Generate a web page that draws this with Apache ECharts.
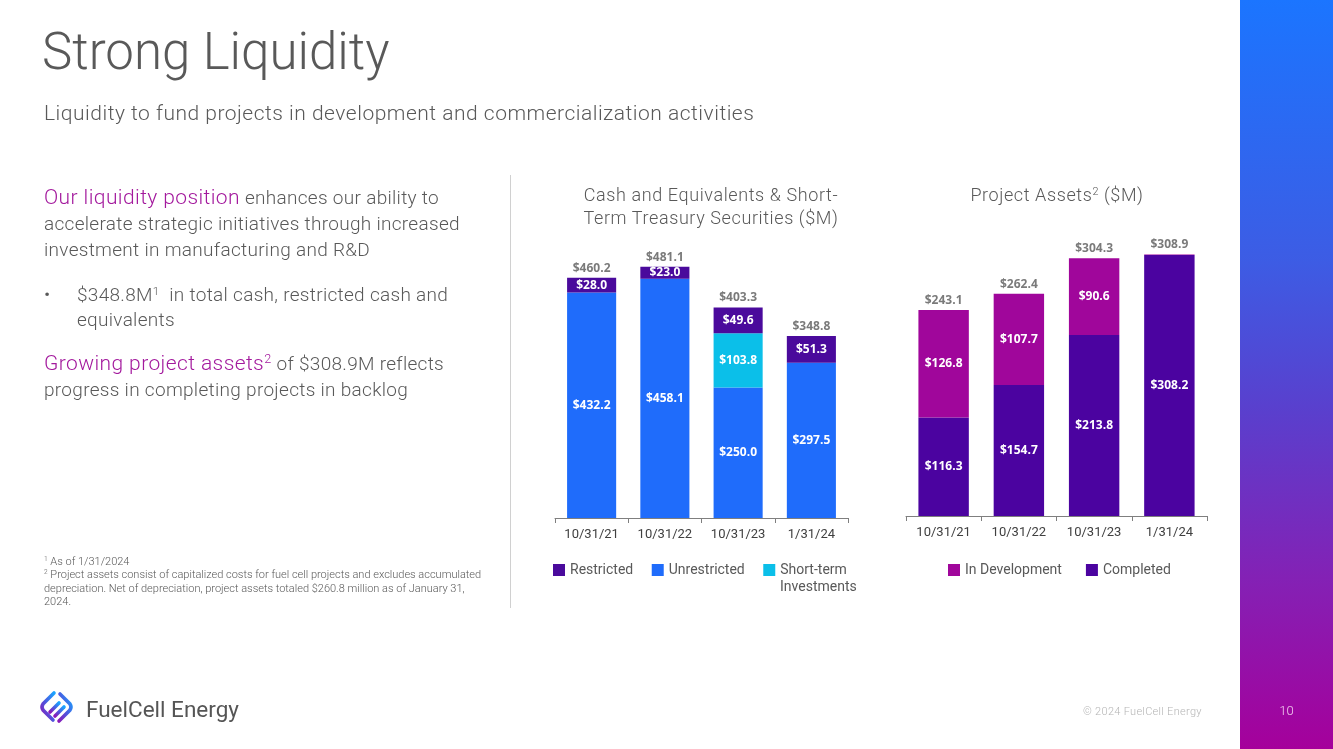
<!DOCTYPE html>
<html>
<head>
<meta charset="utf-8">
<script src="https://cdn.jsdelivr.net/npm/echarts@6/dist/echarts.min.js"></script>
<style>
  html, body { margin:0; padding:0; background:#fff; }
  body { width:1333px; height:749px; position:relative; overflow:hidden; font-family: Roboto, "Open Sans", "Liberation Sans", sans-serif; color:#595959; }
  .abs { position:absolute; white-space:nowrap; }
  #chart { position:absolute; left:0; top:0; width:1240px; height:749px; }
  .mag { color:#a3199d; font-size:21px; letter-spacing:0.4px; }
  sup { font-size:60%; vertical-align: 0.55em; line-height:0; }
</style>
</head>
<body>
<div id="chart"></div>

<div class="abs" style="left:42px; top:20px; font-size:51px; font-weight:300; color:#595959; line-height:64px;">Strong Liquidity</div>
<div class="abs" style="left:44px; top:99px; font-size:21px; font-weight:300; color:#595959; line-height:28px; letter-spacing:0.5px;">Liquidity to fund projects in development and commercialization activities</div>

<div class="abs" style="left:44px; top:184px; font-size:19px; font-weight:300; line-height:26px; letter-spacing:0.3px;">
  <span class="mag">Our liquidity position</span> enhances our ability to<br>accelerate strategic initiatives through increased<br>investment in manufacturing and R&amp;D
</div>
<div class="abs" style="left:44px; top:282px; font-size:19px; font-weight:300; line-height:25px; letter-spacing:0.3px;">
  <span style="position:absolute; left:0;">•</span>
  <div style="margin-left:33px;">$348.8M<sup>1</sup>&nbsp; in total cash, restricted cash and<br>equivalents</div>
</div>
<div class="abs" style="left:44px; top:350px; font-size:19px; font-weight:300; line-height:26px; letter-spacing:0.3px;">
  <span class="mag">Growing project assets<sup>2</sup></span> of $308.9M reflects<br>progress in completing projects in backlog
</div>

<div class="abs" style="left:44px; top:555px; font-size:11px; font-weight:300; line-height:13.3px; color:#595959;">
  <sup>1</sup> As of 1/31/2024<br><sup>2</sup> Project assets consist of capitalized costs for fuel cell projects and excludes accumulated<br>depreciation. Net of depreciation, project assets totaled $260.8 million as of January 31,<br>2024.
</div>

<div class="abs" style="left:510px; top:175px; width:1px; height:433px; background:#d0d0d0;"></div>

<div class="abs" style="left:540px; top:183px; width:342px; text-align:center; font-size:18px; font-weight:300; line-height:23px; letter-spacing:0.6px; color:#595959;">Cash and Equivalents &amp; Short-<br>Term Treasury Securities ($M)</div>
<div class="abs" style="left:907px; top:183px; width:300px; text-align:center; font-size:18px; font-weight:300; line-height:23px; letter-spacing:0.6px; color:#595959;">Project Assets<sup>2</sup> ($M)</div>
<div class="abs" style="left:780px; top:577px; font-size:14px; font-weight:400; line-height:18px; color:#595959;">Investments</div>

<svg class="abs" style="left:37px; top:688px;" width="40" height="40" viewBox="0 0 40 40">
  <defs>
    <linearGradient id="lg" x1="1" y1="0" x2="0" y2="1">
      <stop offset="0" stop-color="#1aa4ff"/>
      <stop offset="0.5" stop-color="#4a5be0"/>
      <stop offset="1" stop-color="#8a18b8"/>
    </linearGradient>
  </defs>
  <g fill="none" stroke="url(#lg)" stroke-width="3.6" stroke-linecap="round">
    <path d="M17 5 L6 16 Q4 19 6 22 L16 32"/>
    <path d="M23 6 L33 16 Q35 19 33 22 L22 33"/>
    <path d="M13 24 L22 15"/>
    <path d="M18 28 L27 19"/>
  </g>
</svg>
<div class="abs" style="left:86px; top:694px; font-size:22.5px; font-weight:400; color:#555; line-height:30px;">FuelCell Energy</div>
<div class="abs" style="left:1083px; top:705px; font-size:11px; font-weight:300; color:#b5b5b5; line-height:14px; letter-spacing:0.3px;">© 2024 FuelCell Energy</div>

<div class="abs" style="left:1240px; top:0; width:93px; height:749px; background:linear-gradient(to bottom, #1b75ff 0%, #3d5ce4 35%, #5a3fcd 55%, #8520b4 78%, #a5009b 100%);"></div>
<div class="abs" style="left:1240px; top:702px; width:93px; text-align:center; font-size:13px; font-weight:300; color:#f3d0f0; line-height:18px;">10</div>

<script>
// ---- Data ----
const categories = ['10/31/21', '10/31/22', '10/31/23', '1/31/24'];
// Cash chart ($M)
const unrestricted = [432.2, 458.1, 250.0, 297.5];
const shortTerm = [0, 0, 103.8, 0];
const restricted = [28.0, 23.0, 49.6, 51.3];
const cashTotals = [460.2, 481.1, 403.3, 348.8];
// Project assets chart ($M)
const completed = [116.3, 154.7, 213.8, 308.2];
const inDevelopment = [126.8, 107.7, 90.6, 0.7];
const projectTotals = [243.1, 262.4, 304.3, 308.9];

const C_RESTRICTED = '#4a0a9c';
const C_UNRESTRICTED = '#1f6cfb';
const C_SHORT = '#0bbfe9';
const C_INDEV = '#a0069b';
const C_COMPLETED = '#4b03a0';

const FONT = 'Roboto, "Open Sans", sans-serif';
const LABEL_FONT = '"Open Sans", "Noto Sans", sans-serif';

function segLabel() {
  return {
    show: true, position: 'inside', color: '#ffffff', fontWeight: 'bold',
    fontSize: 12, fontFamily: LABEL_FONT,
    formatter: p => (p.value >= 5 ? '$' + p.value.toFixed(1) : '')
  };
}
function totalLabel() {
  return {
    show: true, position: 'top', distance: 3, color: '#595959', fontWeight: 'bold',
    fontSize: 12, fontFamily: LABEL_FONT,
    formatter: p => '$' + p.value.toFixed(1)
  };
}
function xAx(gridIndex) {
  return {
    type: 'category', gridIndex, data: categories,
    axisLine: { show: true, lineStyle: { color: '#7f7f7f', width: 1 } },
    axisTick: { show: true, length: 5, lineStyle: { color: '#7f7f7f' } },
    axisLabel: { color: '#404040', fontSize: 13, fontFamily: FONT, margin: 10 }
  };
}
function yAx(gridIndex, max) {
  return { type: 'value', gridIndex, min: 0, max, show: false, splitLine: { show: false } };
}

const chart = echarts.init(document.getElementById('chart'), null, { renderer: 'canvas' });
chart.setOption({
  animation: false,
  grid: [
    { left: 555, top: 257, width: 293, height: 261 },
    { left: 906, top: 245, width: 301, height: 271 }
  ],
  xAxis: [xAx(0), xAx(1)],
  yAxis: [yAx(0, 500), yAx(1, 320)],
  legend: [
    {
      left: 548, top: 558, itemWidth: 12, itemHeight: 12, itemGap: 18.5, icon: 'rect',
      textStyle: { color: '#595959', fontSize: 14, fontFamily: FONT },
      selectedMode: false,
      formatter: name => (name === 'Short-term Investments' ? 'Short-term' : name),
      data: ['Restricted', 'Unrestricted', 'Short-term Investments']
    },
    {
      left: 943, top: 558, itemWidth: 12, itemHeight: 12, itemGap: 24, icon: 'rect',
      textStyle: { color: '#595959', fontSize: 14, fontFamily: FONT },
      selectedMode: false,
      data: ['In Development', 'Completed']
    }
  ],
  series: [
    { name: 'Unrestricted', type: 'bar', stack: 'cash', xAxisIndex: 0, yAxisIndex: 0, barWidth: '67%',
      data: unrestricted, itemStyle: { color: C_UNRESTRICTED }, label: segLabel() },
    { name: 'Short-term Investments', type: 'bar', stack: 'cash', xAxisIndex: 0, yAxisIndex: 0,
      data: shortTerm, itemStyle: { color: C_SHORT }, label: segLabel() },
    { name: 'Restricted', type: 'bar', stack: 'cash', xAxisIndex: 0, yAxisIndex: 0,
      data: restricted, itemStyle: { color: C_RESTRICTED }, label: segLabel() },
    { name: 'cashTotal', type: 'scatter', xAxisIndex: 0, yAxisIndex: 0, symbolSize: 1,
      itemStyle: { color: 'rgba(0,0,0,0)' }, data: cashTotals, label: totalLabel(), silent: true },

    { name: 'Completed', type: 'bar', stack: 'proj', xAxisIndex: 1, yAxisIndex: 1, barWidth: '67%',
      data: completed, itemStyle: { color: C_COMPLETED }, label: segLabel() },
    { name: 'In Development', type: 'bar', stack: 'proj', xAxisIndex: 1, yAxisIndex: 1,
      data: inDevelopment, itemStyle: { color: C_INDEV }, label: segLabel() },
    { name: 'projTotal', type: 'scatter', xAxisIndex: 1, yAxisIndex: 1, symbolSize: 1,
      itemStyle: { color: 'rgba(0,0,0,0)' }, data: projectTotals, label: totalLabel(), silent: true }
  ]
});
</script>
</body>
</html>
